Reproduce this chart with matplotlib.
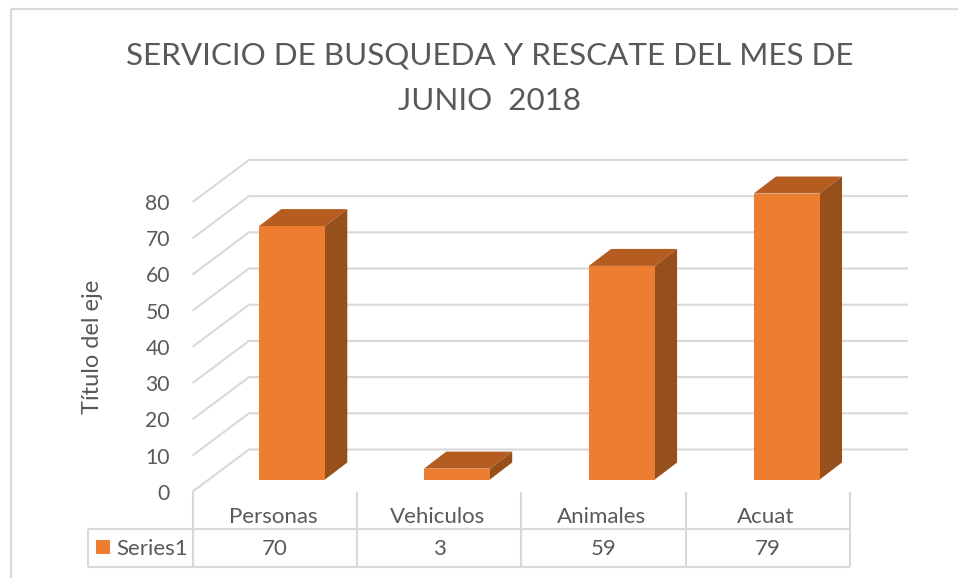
import matplotlib
matplotlib.use("Agg")
import matplotlib.pyplot as plt

categories = ["Personas", "Vehiculos", "Animales", "Acuat"]
values = [70, 3, 59, 79]
series_name = "Series1"
y_ticks = [0, 10, 20, 30, 40, 50, 60, 70, 80]
title_lines = ["SERVICIO DE BUSQUEDA Y RESCATE DEL MES DE", "JUNIO  2018"]
y_title = "Título del eje"

W, H = 958, 579
plt.rcParams["font.family"] = ["Lato", "DejaVu Sans"]
TXT = "#595959"; GRID = "#D9D9D9"
FACE = "#ED7D31"; TOP = "#B55D21"; SIDE = "#974F1C"

fig = plt.figure(figsize=(W / 100, H / 100), dpi=100)

# chrome layer in pixel coordinates
bg = fig.add_axes([0, 0, 1, 1])
bg.set_xlim(0, W); bg.set_ylim(H, 0); bg.axis("off")

# data layer: x = category index, y = value
XS, X0 = 164.9, 292.0
YS, Y0 = 3.62, 479.5
ax = fig.add_axes([0, 0, 1, 1], facecolor="none")
ax.set_xlim(-X0 / XS, (W - X0) / XS)
ax.set_ylim((Y0 - H) / YS, Y0 / YS)
ax.axis("off")

def line(x, y, lw=1.5):
    bg.plot(x, y, color=GRID, lw=lw, solid_capstyle="butt", zorder=1)

# frame
line([11, 11], [9, 578], 1.6)
line([11, 958], [9, 9], 1.6)

# walls
BACK0 = 449.5; FRONT0 = 491.7
for t in y_ticks:
    yb = BACK0 - t * YS
    yf = FRONT0 - t * YS
    line([192.5, 249, 908], [yf, yb, yb])
    bg.text(170, yf, str(t), ha="right", va="center_baseline", fontsize=15.2, color=TXT)

# data table
cols = [193, 357.2, 521.5, 685.7, 850]
for x in cols:
    line([x, x], [FRONT0, 566.7])
line([88.5, 88.5], [528.7, 566.7])
line([88.5, 850], [528.7, 528.7])
line([88.5, 850], [566.7, 566.7])
for i, (c, v) in enumerate(zip(categories, values)):
    cx = (cols[i] + cols[i + 1]) / 2
    bg.text(cx - 2, 515, c, ha="center", va="center_baseline", fontsize=16, color=TXT)
    bg.text(cx, 547, str(v), ha="center", va="center_baseline", fontsize=16, color=TXT)
bg.fill([96, 110, 110, 96], [540, 540, 554, 554], color=FACE, lw=0)
bg.text(116, 547, series_name, ha="left", va="center_baseline", fontsize=16, color=TXT)

# bars
bw = 66 / XS
dx = 22.3 / XS
dy = 17 / YS
for i, v in enumerate(values):
    l, r = i - bw / 2, i + bw / 2
    ax.fill([l, r, r + dx, l + dx], [v, v, v + dy, v + dy], color=TOP, lw=0, zorder=3)
    ax.fill([r, r + dx, r + dx, r], [0, dy, v + dy, v], color=SIDE, lw=0, zorder=3)
    ax.bar(i, v, width=bw, color=FACE, lw=0, zorder=4)

# titles
bg.text(490, 53, title_lines[0], ha="center", va="center_baseline", fontsize=22.6, color=TXT)
bg.text(490, 98, title_lines[1], ha="center", va="center_baseline", fontsize=22.6, color=TXT)
bg.text(93, 347, y_title, rotation=90, ha="center", va="center", fontsize=17, color=TXT)

fig.savefig("out.png", dpi=100)
